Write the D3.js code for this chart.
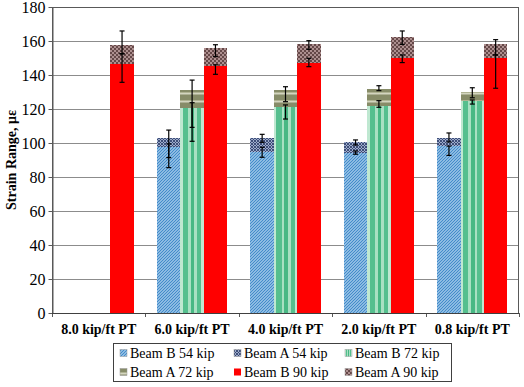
<!DOCTYPE html>
<html>
<head>
<meta charset="utf-8">
<script src="https://cdn.jsdelivr.net/npm/d3@7"></script>
<style>
  html, body { margin: 0; padding: 0; background: #fff; }
  text { font-family: "Times New Roman", "Liberation Serif", serif; }
</style>
</head>
<body>
<svg id="chart" width="524" height="387"></svg>
<script>
// ---------- data ----------
const categories = ["8.0 kip/ft PT", "6.0 kip/ft PT", "4.0 kip/ft PT", "2.0 kip/ft PT", "0.8 kip/ft PT"];
const loads = ["54", "72", "90"];
const yTicks = [0, 20, 40, 60, 80, 100, 120, 140, 160, 180];

const beamB54 = [null, 97.5, 94.9, 93.9, 98.2];
const beamA54 = [null, 102.8, 102.8, 100.4, 102.8];
const beamB72 = [null, 120.4, 121.4, 121.8, 124.7];
const beamA72 = [null, 131.0, 131.2, 132.0, 129.8];
const beamB90 = [146.5, 145.3, 146.9, 150.2, 149.8];
const beamA90 = [157.4, 155.7, 158.2, 162.2, 158.4];

const errPlusB54  = [null, 2.0, 2.6, 1.4, 0.0];
const errMinusB54 = [null, 12.0, 3.3, 0.5, 5.5];
const errPlusA54  = [null, 4.8, 2.3, 1.4, 3.1];
const errMinusA54 = [null, 11.4, 2.4, 1.6, 2.2];
const errPlusB72  = [null, 3.3, 1.0, 3.1, 0.6];
const errMinusB72 = [null, 11.2, 7.3, 0.8, 1.8];
const errPlusA72  = [null, 6.0, 1.9, 1.7, 2.7];
const errMinusA72 = [null, 30.0, 6.9, 1.2, 3.2];
const errPlusB90  = [6.0, 0.7, 2.9, 1.6, 2.0];
const errMinusB90 = [10.8, 4.9, 2.0, 2.9, 17.6];
const errPlusA90  = [8.5, 2.1, 2.0, 3.7, 2.4];
const errMinusA90 = [4.9, 4.9, 3.1, 4.2, 6.6];

const series = [
  { name: "Beam B 54 kip", beam: "B", load: "54", values: beamB54, plus: errPlusB54, minus: errMinusB54, fill: "url(#pB54)" },
  { name: "Beam A 54 kip", beam: "A", load: "54", values: beamA54, plus: errPlusA54, minus: errMinusA54, fill: "url(#pA54)" },
  { name: "Beam B 72 kip", beam: "B", load: "72", values: beamB72, plus: errPlusB72, minus: errMinusB72, fill: "url(#gB72)" },
  { name: "Beam A 72 kip", beam: "A", load: "72", values: beamA72, plus: errPlusA72, minus: errMinusA72, fill: "url(#pA72)" },
  { name: "Beam B 90 kip", beam: "B", load: "90", values: beamB90, plus: errPlusB90, minus: errMinusB90, fill: "#ff0000" },
  { name: "Beam A 90 kip", beam: "A", load: "90", values: beamA90, plus: errPlusA90, minus: errMinusA90, fill: "url(#pA90)" }
];

// ---------- layout ----------
const svg = d3.select("#chart");
const pL = 52, pR = 519, pT = 7, pB = 313;

const x0 = d3.scaleBand().domain(categories).range([pL, pR]).paddingInner(0.25).paddingOuter(0.125);
const x1 = d3.scaleBand().domain(loads).range([0, x0.bandwidth()]);
const y = d3.scaleLinear().domain([0, 180]).range([pB, pT]);

// ---------- patterns ----------
const defs = svg.append("defs");
let p = defs.append("pattern").attr("id", "pB54").attr("patternUnits", "userSpaceOnUse").attr("width", 3).attr("height", 3);
p.append("rect").attr("width", 3).attr("height", 3).attr("fill", "#b0d3ef");
p.append("path").attr("d", "M0,3 L3,0 M-1,1 L1,-1 M2,4 L4,2").attr("stroke", "#3f88c8").attr("stroke-width", 1.2);
p = defs.append("pattern").attr("id", "pA54").attr("patternUnits", "userSpaceOnUse").attr("width", 3).attr("height", 3);
p.append("rect").attr("width", 3).attr("height", 3).attr("fill", "#9eaccb");
p.append("path").attr("d", "M0,3 L3,0 M0,0 L3,3").attr("stroke", "#34446f").attr("stroke-width", 0.9);
const g = defs.append("linearGradient").attr("id", "gB72").attr("x1", 0).attr("x2", 1).attr("y1", 0).attr("y2", 0);
const stripes = [[0, "#bfe8d1"], [0.1, "#bfe8d1"], [0.1, "#55bf8e"], [0.33, "#55bf8e"], [0.33, "#a9e0c2"], [0.45, "#a9e0c2"],
  [0.45, "#48b884"], [0.6, "#48b884"], [0.6, "#a9e0c2"], [0.72, "#a9e0c2"], [0.72, "#55bf8e"], [0.9, "#55bf8e"], [0.9, "#bfe8d1"], [1, "#bfe8d1"]];
stripes.forEach(s => g.append("stop").attr("offset", s[0]).attr("stop-color", s[1]));
p = defs.append("pattern").attr("id", "pA72").attr("patternUnits", "userSpaceOnUse").attr("width", 8).attr("height", 8);
p.append("rect").attr("width", 8).attr("height", 8).attr("fill", "#878c68");
p.append("rect").attr("y", 4).attr("width", 8).attr("height", 2).attr("fill", "#b0b393");
p.append("rect").attr("y", 5).attr("width", 8).attr("height", 1.5).attr("fill", "#d3d5bf");
p = defs.append("pattern").attr("id", "pA90").attr("patternUnits", "userSpaceOnUse").attr("width", 4).attr("height", 4);
p.append("rect").attr("width", 4).attr("height", 4).attr("fill", "#654848");
p.append("rect").attr("width", 2).attr("height", 2).attr("fill", "#ad8f8f");
p.append("rect").attr("x", 2).attr("y", 2).attr("width", 2).attr("height", 2).attr("fill", "#ad8f8f");

svg.append("rect").attr("width", 524).attr("height", 387).attr("fill", "#fff");

// ---------- gridlines ----------
svg.append("g").selectAll("line").data(yTicks.filter(t => t > 0)).join("line")
  .attr("x1", pL).attr("x2", pR).attr("y1", d => Math.round(y(d)) + 0.5).attr("y2", d => Math.round(y(d)) + 0.5)
  .attr("stroke", "#8c8c8c").attr("stroke-width", 1);

// ---------- bars ----------
const barsG = svg.append("g");
["A", "B"].forEach(beam => {
  series.filter(s => s.beam === beam).forEach(s => {
    barsG.append("g").selectAll("rect")
      .data(categories.map((c, i) => ({ c, v: s.values[i] })).filter(d => d.v != null))
      .join("rect")
      .attr("x", d => x0(d.c) + x1(s.load))
      .attr("width", x1.bandwidth())
      .attr("y", d => y(d.v))
      .attr("height", d => y(0) - y(d.v))
      .attr("fill", s.fill)
      .attr("shape-rendering", "crispEdges");
  });
});

// ---------- error bars ----------
const errG = svg.append("g").attr("stroke", "#000").attr("stroke-width", 1.2);
["A", "B"].forEach(beam => {
  series.filter(s => s.beam === beam).forEach(s => {
    categories.forEach((c, i) => {
      const v = s.values[i];
      if (v == null) return;
      const cx = x0(c) + x1(s.load) + x1.bandwidth() / 2;
      const hi = y(v + s.plus[i]), lo = y(v - s.minus[i]);
      errG.append("line").attr("x1", cx).attr("x2", cx).attr("y1", hi).attr("y2", lo);
      errG.append("line").attr("x1", cx - 2.5).attr("x2", cx + 2.5).attr("y1", hi).attr("y2", hi);
      errG.append("line").attr("x1", cx - 2.5).attr("x2", cx + 2.5).attr("y1", lo).attr("y2", lo);
    });
  });
});

// ---------- axes / frame ----------
svg.append("rect").attr("x", pL + 0.5).attr("y", pT + 0.5).attr("width", pR - pL - 1).attr("height", pB - pT)
  .attr("fill", "none").attr("stroke", "#595959").attr("stroke-width", 1);

const yAxis = svg.append("g").attr("transform", `translate(${pL + 0.5},0)`)
  .call(d3.axisLeft(y).tickValues(yTicks).tickSize(4).tickPadding(3).tickSizeOuter(0));
yAxis.select(".domain").attr("stroke", "#595959");
yAxis.selectAll(".tick line").attr("stroke", "#595959");
yAxis.selectAll("text").attr("font-size", 16).attr("fill", "#000")
  .attr("font-family", "'Times New Roman', 'Liberation Serif', serif");

const bounds = d3.range(categories.length + 1).map(i => pL + i * (pR - pL) / categories.length);
svg.append("g").selectAll("line").data(bounds).join("line")
  .attr("x1", d => Math.round(d) + 0.5).attr("x2", d => Math.round(d) + 0.5).attr("y1", pB).attr("y2", pB + 4)
  .attr("stroke", "#595959");
svg.append("line").attr("x1", pL).attr("x2", pR).attr("y1", pB + 0.5).attr("y2", pB + 0.5)
  .attr("stroke", "#404040");

svg.append("g").selectAll("text").data(categories).join("text")
  .attr("x", d => x0(d) + x0.bandwidth() / 2).attr("y", 334)
  .attr("text-anchor", "middle").attr("font-size", 14).attr("font-weight", "bold").text(d => d);

svg.append("text").attr("transform", `translate(16,${(pT + pB) / 2}) rotate(-90)`)
  .attr("text-anchor", "middle").attr("font-size", 14).attr("font-weight", "bold")
  .text("Strain Range, με");

// ---------- legend ----------
const leg = svg.append("g");
leg.append("rect").attr("x", 113.5).attr("y", 343.5).attr("width", 338).attr("height", 38)
  .attr("fill", "#fff").attr("stroke", "#404040").attr("stroke-width", 1);
const colMarker = [120, 234, 345];
const rowY = [353, 372];
series.forEach((s, i) => {
  const col = i % 3, row = Math.floor(i / 3);
  leg.append("rect").attr("x", colMarker[col]).attr("y", rowY[row] - 3.5).attr("width", 7).attr("height", 7)
    .attr("fill", s.fill).attr("stroke", s.fill === "#ff0000" ? "none" : "#9a9a9a").attr("stroke-width", 0.5);
  leg.append("text").attr("x", colMarker[col] + 10).attr("y", rowY[row] + 5)
    .attr("font-size", 14).text(s.name);
});
</script>
</body>
</html>
